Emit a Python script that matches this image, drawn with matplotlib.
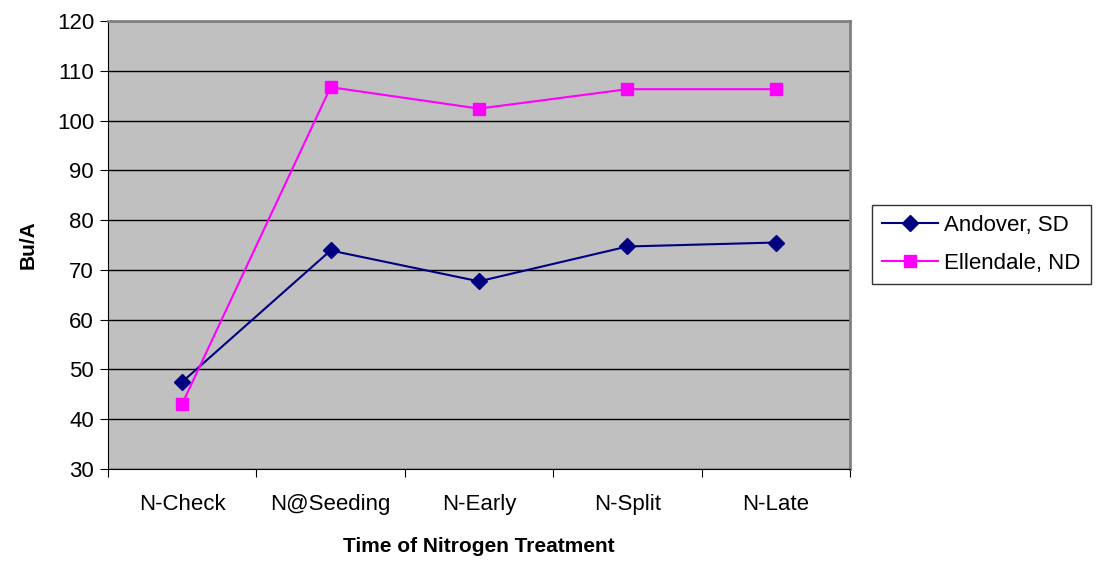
from matplotlib import pyplot as plt
import numpy as np

plt.rcParams['font.family'] = ['Liberation Sans', 'DejaVu Sans']

treatments = ['N-Check', 'N@Seeding', 'N-Early', 'N-Split', 'N-Late']
andover = [47.5, 73.9, 67.7, 74.7, 75.5]
ellendale = [43.1, 106.7, 102.4, 106.3, 106.3]

fig = plt.figure(figsize=(10.98, 5.61), dpi=100)
ax = fig.add_axes([108 / 1098, 1 - 469 / 561, (850 - 108) / 1098, (469 - 21) / 561])
ax.set_facecolor('#C0C0C0')

x = np.arange(len(treatments))
ax.plot(x, andover, color='#000080', marker='D', markersize=8, lw=1.5, label='Andover, SD')
ax.plot(x, ellendale, color='#FF00FF', marker='s', markersize=9, lw=1.5, label='Ellendale, ND')

ax.set_xlim(-0.5, len(treatments) - 0.5)
ax.set_ylim(30, 120)
ax.set_yticks(range(30, 121, 10))
ax.yaxis.grid(True, color='black', lw=1)
ax.set_axisbelow(True)

# category boundaries as ticks, labels centred between them
ax.set_xticks(np.arange(-0.5, len(treatments), 1))
ax.set_xticklabels([])
ax.set_xticks(x, minor=True)
ax.set_xticklabels(treatments, minor=True)
ax.tick_params(axis='x', which='minor', length=0, pad=18, labelsize=16)
ax.tick_params(axis='x', which='major', length=6, direction='out')
ax.tick_params(axis='y', length=6, direction='out', labelsize=16, pad=4)

for s in ['top', 'right']:
    ax.spines[s].set_color('#808080')
    ax.spines[s].set_linewidth(2)
for s in ['left', 'bottom']:
    ax.spines[s].set_color('black')

ax.set_xlabel('Time of Nitrogen Treatment', fontsize=15, fontweight='bold', labelpad=16)
ax.set_ylabel('Bu/A', fontsize=15, fontweight='bold', labelpad=14)

leg = fig.legend(loc='upper left', bbox_to_anchor=(872 / 1098, 1 - 205 / 561), fontsize=16,
                 frameon=True, fancybox=False, edgecolor='black', borderaxespad=0,
                 handlelength=2.5, labelspacing=0.75, borderpad=0.45, handletextpad=0.3)
leg.get_frame().set_linewidth(1)

plt.savefig('out.png', dpi=100)
